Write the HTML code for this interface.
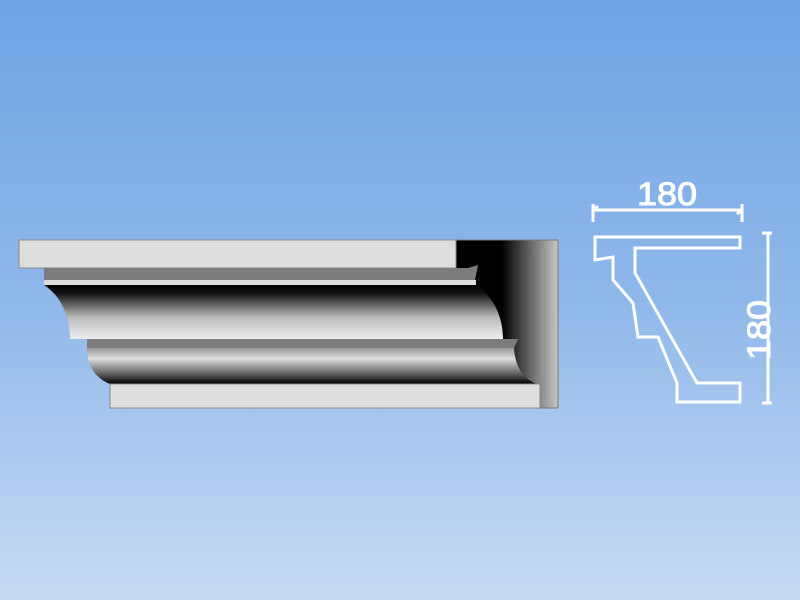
<!DOCTYPE html>
<html><head><meta charset="utf-8"><style>
html,body{margin:0;padding:0}
body{width:800px;height:600px;overflow:hidden;background:linear-gradient(#6fa4e4,#8fb8ea 50%,#c8dbf4)}
</style></head><body>
<svg width="800" height="600" viewBox="0 0 800 600" xmlns="http://www.w3.org/2000/svg" style="position:absolute;left:0;top:0">
<defs>
<linearGradient id="blk" x1="0" x2="1" y1="0" y2="0">
<stop offset="0" stop-color="#000"/><stop offset="0.45" stop-color="#000"/><stop offset="1" stop-color="#c8c8c8"/></linearGradient>
<linearGradient id="cove1" x1="0" x2="0" y1="0" y2="1">
<stop offset="0" stop-color="#000"/><stop offset="0.15" stop-color="#111"/><stop offset="0.6" stop-color="#bbb"/><stop offset="1" stop-color="#eee"/></linearGradient>
<linearGradient id="cove2" x1="0" x2="0" y1="0" y2="1">
<stop offset="0" stop-color="#999"/><stop offset="0.3" stop-color="#ddd"/><stop offset="0.75" stop-color="#555"/><stop offset="1" stop-color="#000"/></linearGradient>
</defs>
<rect x="456" y="240" width="102" height="168" fill="url(#blk)" stroke="#777" stroke-width="1"/>
<rect x="19" y="240" width="437" height="28" fill="#dedede" stroke="#888" stroke-width="1"/>
<path d="M44 268 H468 L478 265 L474 285 H44 Z" fill="#7c7c7c"/>
<rect x="44" y="280" width="432" height="5" fill="#dcdcdc"/>
<path d="M44 285 H478 C495 300 503 318 503 339 H70 C70 315 60 295 44 285 Z" fill="url(#cove1)"/>
<path d="M87 339 H518 L514 348 H87 Z" fill="#7c7c7c"/>
<path d="M87 348 H514 C515 368 525 380 537 384 H110 C95 378 87 365 87 348 Z" fill="url(#cove2)"/>
<rect x="110" y="384" width="430" height="24" fill="#dedede" stroke="#888" stroke-width="1"/>
<g fill="none" stroke="#fff" stroke-width="3">
<path d="M595 237 H740 V248 H635 V273 L697 383 H740 V402 H677 V383 L658 337 H638 L633 303 L613 280 V257 L595 260 Z"/>
<path d="M593 210 H742 M593 204 V222 M742 204 V222 M593 210 L598 206 M742 210 L737 214"/>
<path d="M768 233 V403 M762 233 H772 M762 403 H772"/>
</g>
<text x="667" y="205" fill="#fff" font-family="Liberation Sans, sans-serif" font-size="32" text-anchor="middle" textLength="60" lengthAdjust="spacingAndGlyphs" stroke="#fff" stroke-width="1">180</text>
<text transform="translate(770 330) rotate(-90)" fill="#fff" font-family="Liberation Sans, sans-serif" font-size="32" text-anchor="middle" textLength="60" lengthAdjust="spacingAndGlyphs" stroke="#fff" stroke-width="1">180</text>
</svg>
</body></html>
